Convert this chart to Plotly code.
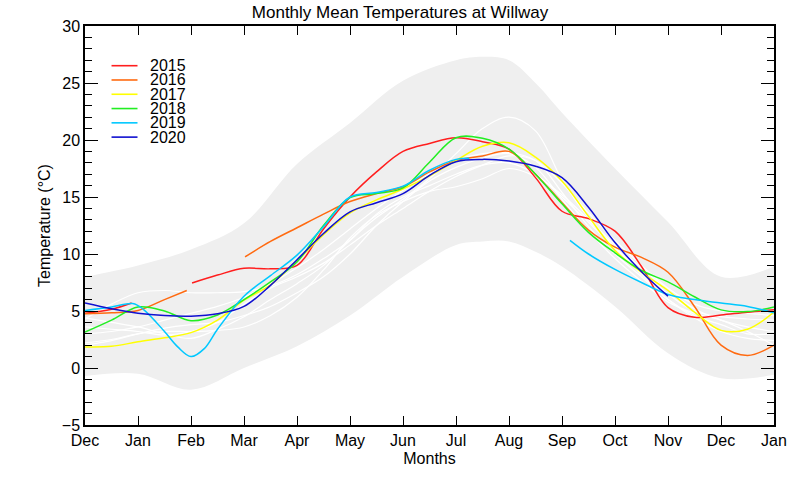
import plotly.graph_objects as go

# ---------------- data ----------------
month_labels = ["Dec", "Jan", "Feb", "Mar", "Apr", "May", "Jun", "Jul",
                "Aug", "Sep", "Oct", "Nov", "Dec", "Jan"]
month_pos = list(range(14))

# grey envelope (min / max of record)
band_x = [0, 1, 2, 3, 4, 5, 6, 7, 7.5, 8, 8.5, 9, 10, 11, 12, 13]
band_upper = [8.0, 9.0, 10.4, 12.7, 17.9, 21.5, 25.2, 27.0, 27.3, 27.0, 25.0, 22.4, 17.5, 12.8, 8.0, 8.9]
band_lower = [-0.7, -0.5, -1.9, 0.0, 1.9, 4.6, 8.0, 10.8, 11.1, 11.1, 10.2, 8.9, 5.4, 1.3, -0.9, -0.6]

half_x = [i * 0.5 for i in range(27)]

# earlier years (white lines)
white_years = [
    [4.3, 5.6, 6.6, 6.8, 6.6, 6.6, 6.7, 7.2, 8.2, 9.6, 11.2, 13.5, 15.0, 16.0, 17.0, 17.8, 18.0, 17.0, 15.0, 12.8, 10.5, 8.5, 6.5, 5.0, 4.5, 4.3, 4.2],
    [4.4, 4.0, 3.6, 3.0, 2.6, 3.4, 4.5, 6.0, 7.4, 9.0, 11.2, 13.2, 14.8, 16.6, 18.8, 21.0, 22.0, 20.8, 16.5, 13.2, 10.8, 8.8, 6.8, 5.2, 4.2, 3.6, 3.2],
    [2.2, 2.5, 3.0, 3.2, 3.2, 3.3, 3.6, 4.6, 6.2, 8.6, 11.4, 13.4, 14.6, 15.5, 15.9, 16.6, 17.5, 16.8, 15.2, 13.0, 10.6, 8.2, 6.0, 4.6, 3.8, 3.0, 3.0],
    [3.6, 3.4, 3.2, 2.9, 3.2, 4.0, 5.6, 7.0, 8.0, 9.2, 10.8, 12.5, 14.0, 15.5, 16.8, 17.8, 18.6, 18.2, 16.2, 13.6, 11.2, 9.0, 7.0, 5.6, 5.0, 4.8, 4.6],
    [3.0, 3.2, 3.6, 4.2, 4.8, 5.4, 6.2, 7.4, 8.8, 10.4, 12.2, 14.0, 15.6, 17.0, 18.2, 18.8, 18.9, 18.2, 15.4, 12.4, 10.0, 8.0, 6.0, 4.4, 3.2, 2.6, 2.4],
    [2.0, 2.4, 3.0, 3.5, 3.8, 4.0, 4.6, 5.4, 6.6, 8.0, 10.0, 12.5, 14.6, 16.4, 17.6, 18.4, 18.8, 17.6, 14.8, 12.0, 9.6, 7.6, 5.8, 4.8, 4.2, 3.2, 2.0],
]

years = ["2015", "2016", "2017", "2018", "2019", "2020"]
colors = ["#ff1e1e", "#ff6a10", "#ffff00", "#22ee22", "#00c8ff", "#1010d0"]

x_2015 = [0, 0.5, 0.88, None, 2.02, 2.5, 3, 3.5, 4, 4.5, 5, 5.5, 6, 6.5, 7, 7.5, 8, 8.5, 9, 9.5, 10, 10.5, 11, 11.5, 12, 12.5, 13]
t_2015 = [4.8, 5.15, 5.7, None, 7.45, 8.15, 8.75, 8.7, 9.0, 12.2, 15.0, 17.2, 19.0, 19.7, 20.2, 19.85, 19.2, 16.7, 13.75, 13.1, 12.0, 8.9, 5.3, 4.45, 4.65, 4.9, 5.1]

x_2016 = [0, 0.5, 1, 1.5, 1.92, None, 3.02, 3.5, 4, 4.5, 5, 5.5, 6, 6.5, 7, 7.5, 8, 8.5, 9, 9.5, 10, 10.5, 11, 11.5, 12, 12.5, 13]
t_2016 = [4.75, 4.85, 5.05, 6.0, 6.8, None, 9.75, 11.1, 12.3, 13.5, 14.6, 15.3, 15.9, 17.2, 18.2, 18.6, 19.0, 17.0, 14.5, 12.1, 10.6, 9.7, 8.4, 5.4, 2.0, 1.1, 2.0]

x_2017 = half_x
t_2017 = [1.85, 1.9, 2.3, 2.65, 3.1, 4.2, 5.95, 7.3, 9.4, 11.7, 13.6, 14.75, 15.7, 16.85, 18.2, 19.45, 19.75, 18.5, 16.4, 13.3, 10.3, 8.4, 6.8, 4.9, 3.3, 3.4, 4.9]

x_2018 = half_x
t_2018 = [3.15, 4.2, 5.35, 5.0, 4.15, 4.65, 6.0, 7.55, 9.3, 12.5, 14.95, 15.3, 15.8, 18.05, 20.2, 20.15, 19.2, 17.0, 14.4, 11.9, 10.1, 8.55, 7.55, 6.25, 5.1, 4.95, 5.35]

x_2019 = [0, 0.5, 0.9, 1.1, 1.5, 1.75, 2, 2.25, 2.5, 3, 3.5, 4, 4.5, 5, 5.5, 6, 6.5, 7, 7.25, None,
          9.15, 9.5, 10, 10.5, 11, 11.5, 12, 12.5, 13]
t_2019 = [5.05, 5.35, 5.65, 5.15, 3.2, 1.85, 1.0, 1.7, 3.4, 6.3, 8.1, 9.9, 12.4, 15.0, 15.4, 15.95, 17.35, 18.3, 18.4, None,
          11.2, 10.0, 8.65, 7.5, 6.45, 6.0, 5.7, 5.4, 4.85]

x_2020 = half_x[:23]
t_2020 = [5.7, 5.2, 4.8, 4.6, 4.55, 4.75, 5.4, 7.25, 9.5, 11.8, 13.7, 14.5, 15.3, 16.9, 18.1, 18.3, 18.15, 17.7, 16.7, 14.1, 11.0, 8.45, 6.3]

series_x = [x_2015, x_2016, x_2017, x_2018, x_2019, x_2020]
series_t = [t_2015, t_2016, t_2017, t_2018, t_2019, t_2020]

# ---------------- figure ----------------
FONT = "Liberation Sans, Arial, Helvetica, sans-serif"
fig = go.Figure()

fig.add_trace(go.Scatter(x=band_x, y=band_lower, mode="lines",
                         line=dict(width=0, shape="spline", color="#efefef"),
                         showlegend=False, hoverinfo="skip"))
fig.add_trace(go.Scatter(x=band_x, y=band_upper, mode="lines", fill="tonexty",
                         fillcolor="#efefef",
                         line=dict(width=0, shape="spline", color="#efefef"),
                         showlegend=False, hoverinfo="skip"))

for w in white_years:
    fig.add_trace(go.Scatter(x=half_x, y=w, mode="lines",
                             line=dict(width=1.2, color="white", shape="spline"),
                             showlegend=False, hoverinfo="skip"))

for xs, ts, c in zip(series_x, series_t, colors):
    fig.add_trace(go.Scatter(x=xs, y=ts, mode="lines", connectgaps=False,
                             line=dict(width=1.5, color=c, shape="spline"),
                             showlegend=False))

# manual legend (compact spacing as in the original)
x0_leg, x1_leg, xt_leg = 0.0385, 0.0762, 0.093
y_top, dy = 0.9005, 0.0358
for i, (yr, c) in enumerate(zip(years, colors)):
    yy = y_top - i * dy
    fig.add_shape(type="line", xref="paper", yref="paper",
                  x0=x0_leg, x1=x1_leg, y0=yy, y1=yy,
                  line=dict(color=c, width=1.6))
    fig.add_annotation(xref="paper", yref="paper", x=xt_leg, y=yy,
                       text=yr, showarrow=False, xanchor="left", yanchor="middle",
                       borderpad=0,
                       font=dict(family=FONT, size=16, color="black"))

fig.update_layout(
    width=800, height=480,
    margin=dict(l=85, r=26, t=26, b=55),
    paper_bgcolor="white", plot_bgcolor="white",
    font=dict(family=FONT, size=16, color="black"),
    title=dict(text="Monthly Mean Temperatures at Willway", x=0.5, xanchor="center",
               y=0.975, yanchor="middle", font=dict(family=FONT, size=17, color="black")),
    showlegend=False,
)

fig.update_xaxes(range=[0, 13], tickmode="array", tickvals=month_pos, ticktext=month_labels,
                 ticks="inside", ticklen=9, tickwidth=1.3, tickcolor="black",
                 showline=True, linecolor="black", linewidth=1.5, mirror="ticks",
                 showgrid=False, zeroline=False,
                 tickfont=dict(family=FONT, size=16, color="black"),
                 title=dict(text="Months", standoff=5, font=dict(family=FONT, size=16)))
fig.update_yaxes(range=[-5, 30], tickmode="linear", tick0=0, dtick=5,
                 ticks="inside", ticklen=13, tickwidth=1.3, tickcolor="black",
                 minor=dict(ticks="inside", ticklen=7, tickwidth=1.3, dtick=1, tick0=0, tickcolor="black"),
                 showline=True, linecolor="black", linewidth=1.5, mirror="ticks",
                 showgrid=False, zeroline=False,
                 tickfont=dict(family=FONT, size=16, color="black"),
                 title=dict(text="Temperature (°C)", standoff=7, font=dict(family=FONT, size=16)))

fig.write_html("out.html", config={"displayModeBar": False},
               post_script="document.body.style.margin='0px';")
